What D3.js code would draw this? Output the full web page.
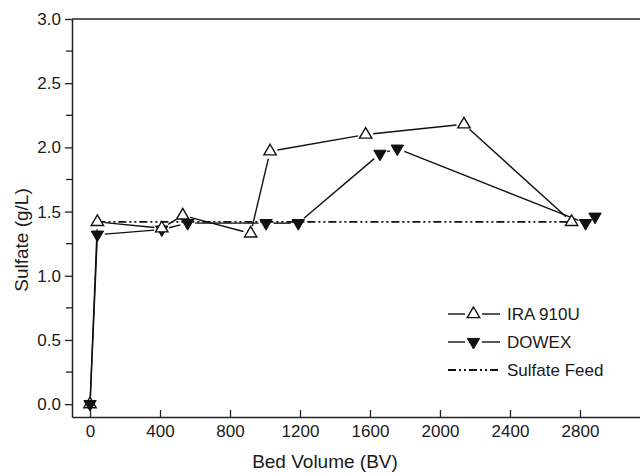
<!DOCTYPE html>
<html>
<head>
<meta charset="utf-8">
<script src="https://cdn.jsdelivr.net/npm/d3@7"></script>
<style>
  body { margin: 0; background: #fff; }
  svg text { font-family: 'Liberation Sans', Arial, sans-serif; fill: #1a1a1a; }
</style>
</head>
<body>
<div id="chart"></div>
<script>
// data
const bedVolumeIRA = [0, 42, 410, 530, 918, 1029, 1575, 2137, 2752];
const sulfateIRA = [0, 1.42, 1.37, 1.47, 1.33, 1.97, 2.10, 2.18, 1.42];
const bedVolumeDOWEX = [0, 42, 410, 558, 1006, 1190, 1657, 1756, 2832, 2886];
const sulfateDOWEX = [0, 1.32, 1.36, 1.41, 1.41, 1.41, 1.95, 1.99, 1.41, 1.46];
const bedVolumeFeed = [42, 2752];
const sulfateFeed = [1.42, 1.42];
const xTicks = [0, 400, 800, 1200, 1600, 2000, 2400, 2800];
const yTicks = [0, 0.5, 1.0, 1.5, 2.0, 2.5, 3.0];
const yMinorTicks = [0.25, 0.75, 1.25, 1.75, 2.25, 2.75];
const seriesNames = ['IRA 910U', 'DOWEX', 'Sulfate Feed'];

const width = 640;
const height = 474;
const plotLeft = 72, plotRight = 640, plotTop = 19, plotBottom = 417;

const x = d3.scaleLinear().domain([-103, 3143]).range([plotLeft, plotRight]);
const y = d3.scaleLinear().domain([-0.1, 3.0]).range([plotBottom, plotTop]);

const svg = d3.select('#chart')
  .append('svg')
  .attr('width', width)
  .attr('height', height);

const upPath = 'M0,-7L6.2,3.6L-6.2,3.6Z';
const downPath = 'M0,7L6.2,-3.6L-6.2,-3.6Z';
const feedDash = '8,3,2,3,2,3';
const gapR = 7.5;

// draw segments with small gaps around the symbols
function drawSeries(xs, ys) {
  const pts = xs.map((v, i) => [x(v), y(ys[i])]);
  const g = svg.append('g');
  for (let i = 0; i < pts.length - 1; i++) {
    const [x1, y1] = pts[i];
    const [x2, y2] = pts[i + 1];
    const len = Math.hypot(x2 - x1, y2 - y1);
    if (len <= gapR * 2) continue;
    const ux = (x2 - x1) / len, uy = (y2 - y1) / len;
    g.append('line')
      .attr('x1', x1 + ux * gapR).attr('y1', y1 + uy * gapR)
      .attr('x2', x2 - ux * gapR).attr('y2', y2 - uy * gapR)
      .attr('stroke', '#111')
      .attr('stroke-width', 1.4);
  }
  return pts;
}

// feed line
svg.append('path')
  .datum(bedVolumeFeed.map((v, i) => [v, sulfateFeed[i]]))
  .attr('d', d3.line().x(d => x(d[0])).y(d => y(d[1])))
  .attr('fill', 'none')
  .attr('stroke', '#111')
  .attr('stroke-width', 1.8)
  .attr('stroke-dasharray', feedDash);

const ptsIRA = drawSeries(bedVolumeIRA, sulfateIRA);
const ptsDOWEX = drawSeries(bedVolumeDOWEX, sulfateDOWEX);

svg.append('g').selectAll('path')
  .data(ptsDOWEX)
  .enter()
  .append('path')
  .attr('d', downPath)
  .attr('transform', d => `translate(${d[0]},${d[1]})`)
  .attr('fill', '#111')
  .attr('stroke', '#111')
  .attr('stroke-width', 1);

svg.append('g').selectAll('path')
  .data(ptsIRA)
  .enter()
  .append('path')
  .attr('d', upPath)
  .attr('transform', d => `translate(${d[0]},${d[1]})`)
  .attr('fill', (d, i) => i === 0 ? 'none' : '#fff')
  .attr('stroke', '#111')
  .attr('stroke-width', 1.4);

// frame
const axisColor = '#222';
svg.append('line').attr('x1', plotLeft).attr('x2', plotRight).attr('y1', plotTop).attr('y2', plotTop)
  .attr('stroke', axisColor).attr('stroke-width', 1.5);

const xAxis = svg.append('g')
  .attr('transform', `translate(0,${plotBottom})`)
  .call(d3.axisBottom(x).tickValues(xTicks).tickFormat(d3.format('d')).tickSizeInner(-7).tickSizeOuter(0).tickPadding(10));
xAxis.select('.domain').attr('stroke', axisColor).attr('stroke-width', 1.5);
xAxis.selectAll('.tick line').attr('stroke', axisColor).attr('stroke-width', 1.3);
xAxis.selectAll('.tick text').attr('font-size', 17).attr('dy', '0.71em').attr('y', 8);

const yAxis = svg.append('g')
  .attr('transform', `translate(${plotLeft},0)`)
  .call(d3.axisLeft(y).tickValues(yTicks).tickFormat(d3.format('.1f')).tickSizeInner(7).tickSizeOuter(0).tickPadding(4));
yAxis.select('.domain').attr('stroke', axisColor).attr('stroke-width', 1.5);
yAxis.selectAll('.tick line').attr('stroke', axisColor).attr('stroke-width', 1.3);
yAxis.selectAll('.tick text').attr('font-size', 17);

svg.append('g').selectAll('line')
  .data(yMinorTicks)
  .enter()
  .append('line')
  .attr('x1', plotLeft - 6).attr('x2', plotLeft)
  .attr('y1', d => y(d)).attr('y2', d => y(d))
  .attr('stroke', axisColor).attr('stroke-width', 1.3);

// titles
svg.append('text')
  .attr('x', 325).attr('y', 468)
  .attr('text-anchor', 'middle')
  .attr('font-size', 19)
  .text('Bed Volume (BV)');

svg.append('text')
  .attr('transform', 'translate(28,240) rotate(-90)')
  .attr('text-anchor', 'middle')
  .attr('font-size', 19)
  .text('Sulfate (g/L)');

// legend
const legend = svg.append('g').attr('transform', 'translate(448,314)');
seriesNames.forEach((name, i) => {
  const row = legend.append('g').attr('transform', `translate(0,${i * 28})`);
  if (i < 2) {
    row.append('line').attr('x1', 0).attr('x2', 17).attr('y1', 0).attr('y2', 0)
      .attr('stroke', '#111').attr('stroke-width', 1.4);
    row.append('line').attr('x1', 34).attr('x2', 52).attr('y1', 0).attr('y2', 0)
      .attr('stroke', '#111').attr('stroke-width', 1.4);
    row.append('path')
      .attr('d', i === 0 ? upPath : downPath)
      .attr('transform', 'translate(25.5,0)')
      .attr('fill', i === 0 ? '#fff' : '#111')
      .attr('stroke', '#111')
      .attr('stroke-width', i === 0 ? 1.4 : 1);
  } else {
    row.append('line').attr('x1', 0).attr('x2', 52).attr('y1', 0).attr('y2', 0)
      .attr('stroke', '#111').attr('stroke-width', 1.8)
      .attr('stroke-dasharray', feedDash);
  }
  row.append('text')
    .attr('x', 59).attr('y', 0)
    .attr('dy', '0.36em')
    .attr('font-size', 17)
    .text(name);
});
</script>
</body>
</html>
